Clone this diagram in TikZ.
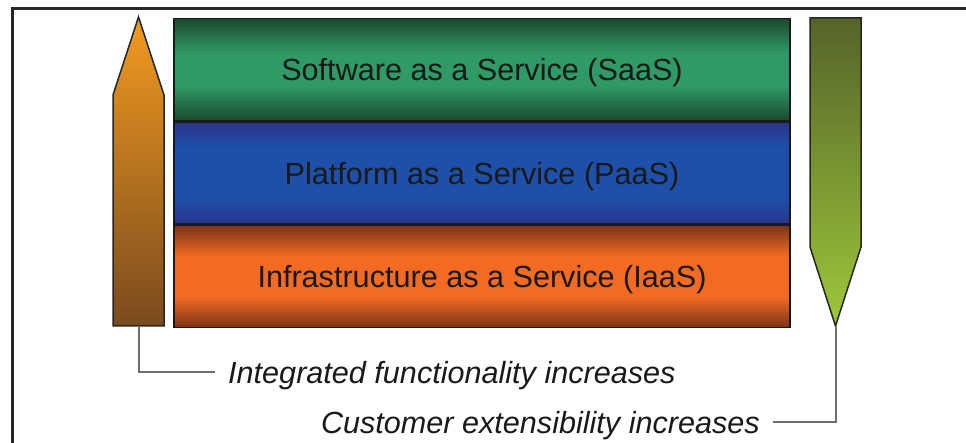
\documentclass[tikz,border=0pt]{standalone}
\usepackage{fontspec}
\setmainfont{Liberation Sans}
\definecolor{greendark}{HTML}{1B4A2D}
\definecolor{greenmid}{HTML}{2F9A66}
\definecolor{bluedark}{HTML}{29358A}
\definecolor{bluemid}{HTML}{1E50AA}
\definecolor{orangedark}{HTML}{7A3418}
\definecolor{orangemid}{HTML}{F36A22}
\definecolor{intop}{HTML}{F29B20}
\definecolor{inbottom}{HTML}{7A4A1E}
\definecolor{extop}{HTML}{55632A}
\definecolor{exbottom}{HTML}{9DC83A}
\definecolor{linkgray}{HTML}{6E6E6E}
\pgfdeclareverticalshading{greenband}{100bp}{color(0bp)=(greendark); color(25bp)=(greendark); color(42bp)=(greenmid); color(58bp)=(greenmid); color(75bp)=(greendark); color(100bp)=(greendark)}
\pgfdeclareverticalshading{blueband}{100bp}{color(0bp)=(bluedark); color(25bp)=(bluedark); color(38bp)=(bluemid); color(62bp)=(bluemid); color(75bp)=(bluedark); color(100bp)=(bluedark)}
\pgfdeclareverticalshading{orangeband}{100bp}{color(0bp)=(orangedark); color(25bp)=(orangedark); color(40bp)=(orangemid); color(60bp)=(orangemid); color(75bp)=(orangedark); color(100bp)=(orangedark)}
\tikzset{
  band/.style={draw=black!90, line width=1.5pt, minimum width=616pt, minimum height=102pt,
    inner sep=0pt, text depth=0pt, text=black!90, font=\fontsize{30.6}{32}\selectfont},
  trend/.style={draw=black!85, line width=1.5pt},
  link/.style={draw=linkgray, line width=2pt},
  note/.style={inner sep=0pt, text depth=0pt, font=\fontsize{30.6}{32}\selectfont\itshape, text=black!90}
}
\begin{document}
\begin{tikzpicture}[x=1pt, y=-1pt]
  \useasboundingbox (0,0) rectangle (966,443);
  % cornice
  \draw[line width=3pt, draw=black!85] (12,443) -- (12,9) -- (966,9);
  % fasce
  \node[band, shading=greenband] (saas) at (482,69.5) {Software as a Service (SaaS)};
  \node[band, shading=blueband, anchor=north] (paas) at (saas.south) {Platform as a Service (PaaS)};
  \node[band, shading=orangeband, anchor=north] (iaas) at (paas.south) {Infrastructure as a Service (IaaS)};
  % frecce
  \shade[trend, top color=intop, bottom color=inbottom]
    (113,326) -- (113,95) -- (138.5,17) -- (164,95) -- (164,326) -- cycle;
  \shade[trend, top color=extop, bottom color=exbottom]
    (810,18) -- (810,247) -- (835.5,326) -- (861,247) -- (861,18) -- cycle;
  \coordinate (intbase) at (138.5,326);
  \coordinate (extip) at (835.5,326);
  % etichette
  \node[note, anchor=west] (intnote) at (228,372) {Integrated functionality increases};
  \node[note, anchor=east] (extnote) at (760,422) {Customer extensibility increases};
  \draw[link] (intbase) |- ([xshift=-13pt]intnote.west);
  \draw[link] (extip) |- ([xshift=13pt]extnote.east);
\end{tikzpicture}
\end{document}
